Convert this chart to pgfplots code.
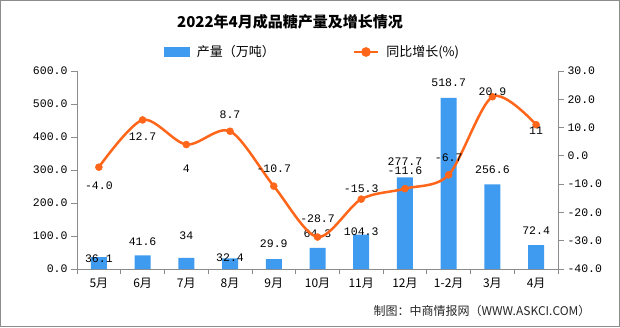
\documentclass[border=0pt]{standalone}
\usepackage{pgfplots}
\usepackage{pgfplotstable}
\pgfplotsset{compat=1.18}
\usepackage{fontspec}
\setmainfont{Noto Sans CJK SC}
\newfontfamily\numfont{Liberation Mono}
\definecolor{barblue}{RGB}{62,155,240}
\definecolor{lineorange}{RGB}{255,102,26}
\definecolor{axgray}{RGB}{140,140,140}

\pgfplotstableread{
x y lab off
0 36.1 36.1 -2
1 41.6 41.6 14
2 34 34 22
3 32.4 32.4 1
4 29.9 29.9 15
5 64.3 64.3 14
6 104.3 104.3 3
7 277.7 277.7 16
8 518.7 518.7 15
9 256.6 256.6 15
10 72.4 72.4 14
}\prod

\pgfplotstableread{
x y lab off
0 -4.0 -4.0 -19
1 12.7 12.7 -17
2 4 4 -24
3 8.7 8.7 17
4 -10.7 -10.7 17
5 -28.7 -28.7 18
6 -15.3 -15.3 10
7 -11.6 -11.6 18
8 -6.7 -6.7 17
9 20.9 20.9 5
10 11 11 -6
}\growth

\pgfplotsset{
  basestyle/.style={
    at={(77pt,58pt)}, anchor=south west, scale only axis,
    width=481pt, height=198pt,
    xmin=-0.5, xmax=10.5,
    axis line style={draw=axgray, line width=0.8pt},
    tick align=outside,
    tick style={draw=axgray, line width=0.8pt},
    major tick length=6pt,
    minor tick length=5pt,
    /pgf/number format/assume math mode=true,
    ticklabel style={font=\numfont\fontsize{11.5}{11.5}\selectfont},
  }
}

\begin{document}
\begin{tikzpicture}[x=1pt,y=1pt]
\path[use as bounding box] (0,0) rectangle (620,327);
\draw[axgray, line width=1pt] (0.5,0.5) rectangle (619.5,326.5);

\node[font=\bfseries\fontsize{15}{15}\selectfont] at (290,305) {2022年4月成品糖产量及增长情况};

\begin{axis}[basestyle,
  ymin=0, ymax=600,
  axis x line*=bottom, axis y line*=left,
  xtick={0,...,10},
  xticklabels={5月,6月,7月,8月,9月,10月,11月,12月,1-2月,3月,4月},
  xticklabel style={font=\fontsize{12}{12}\selectfont},
  major x tick style={draw=none},
  minor xtick={-0.5,0.5,...,10.5},
  minor x tick style={draw=axgray, line width=0.8pt},
  ytick={0,100,...,600},
  yticklabel={\pgfmathprintnumber[fixed,fixed zerofill,precision=1]{\tick}},
]
\addplot[ybar, bar width=16pt, fill=barblue, draw=none,
  nodes near coords, point meta=explicit symbolic,
  visualization depends on={\thisrow{off} \as \myoff},
  every node near coord/.append style={anchor=center, yshift=\myoff pt, font=\numfont\fontsize{11.5}{11.5}\selectfont, text=black}]
  table[x=x, y=y, meta=lab]{\prod};
\end{axis}

\begin{axis}[basestyle,
  ymin=-40, ymax=30,
  axis x line=none, axis y line*=right,
  ytick={-40,-30,...,30},
  yticklabel={\pgfmathprintnumber[fixed,fixed zerofill,precision=1]{\tick}},
  legend columns=2,
  legend style={at={(0.49,1.096)}, anchor=center, draw=none, fill=none,
    font=\fontsize{13}{13}\selectfont,
    /tikz/every odd column/.append style={column sep=5pt},
    /tikz/every even column/.append style={column sep=76pt}},
]
\addlegendimage{legend image code/.code={\fill[barblue] (0pt,-4.5pt) rectangle (25pt,4.5pt);}}
\addlegendentry{产量（万吨）}
\addplot[lineorange, line width=2.5pt, smooth, mark=*, mark size=3.5pt,
  mark options={fill=lineorange, draw=lineorange, line width=0.5pt},
  legend image code/.code={\draw[lineorange, line width=2.5pt] (0pt,0pt) -- (24pt,0pt); \fill[lineorange] (12pt,0pt) circle (3.5pt);}]
  table[x=x, y=y]{\growth};
\addlegendentry{同比增长(\%)}
\addplot[draw=none, mark=none, forget plot,
  nodes near coords, point meta=explicit symbolic,
  visualization depends on={\thisrow{off} \as \myoff},
  every node near coord/.append style={anchor=center, yshift=\myoff pt, font=\numfont\fontsize{11.5}{11.5}\selectfont, text=black}]
  table[x=x, y=y, meta=lab]{\growth};
\end{axis}

\node[font=\fontsize{12}{12}\selectfont, text=black!85] at (482,16) {制图：中商情报网（WWW.ASKCI.COM）};
\end{tikzpicture}
\end{document}
